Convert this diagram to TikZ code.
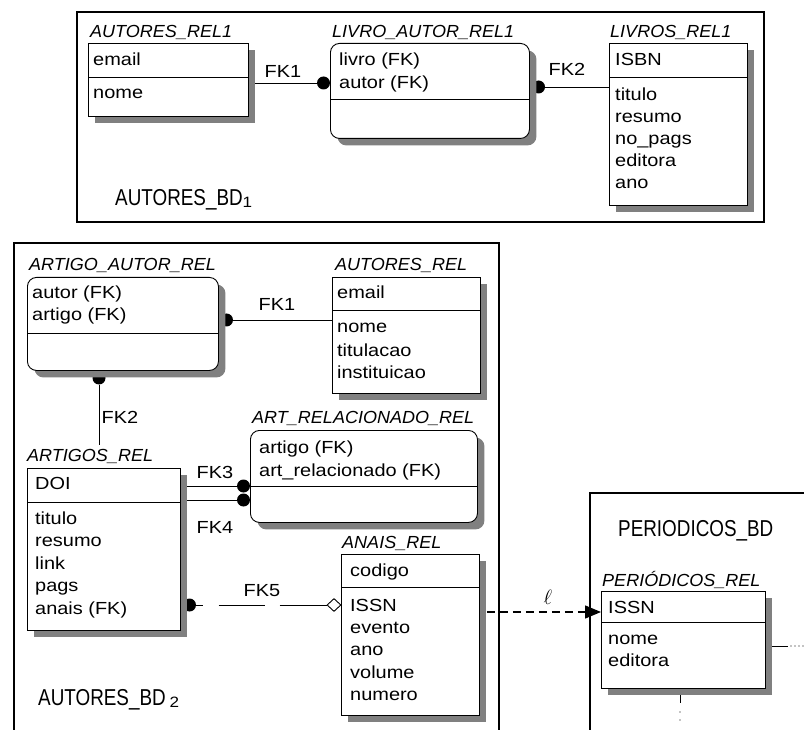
\documentclass[tikz,border=0pt]{standalone}
\usepackage{fontspec}
\setmainfont{Liberation Sans}[FakeStretch=1.14]
\newfontfamily\titlefont{Liberation Sans}[FakeStretch=1.03]
\newfontfamily\bdfont{Liberation Sans}[FakeStretch=0.82]
\usetikzlibrary{shadows,calc,arrows.meta,shapes.geometric}
\pgfdeclarelayer{background}
\pgfsetlayers{background,main}
\definecolor{shadowgray}{RGB}{128,128,128}
\tikzset{
 ent/.style={draw, line width=0.9pt, fill=white, inner sep=0pt, anchor=north west,
   drop shadow={shadow xshift=7pt, shadow yshift=-7pt, fill=shadowgray, opacity=1}},
 rent/.style={ent, rounded corners=9pt},
 txt/.style={anchor=base west, inner sep=0pt, font=\fontsize{17.5}{21}\selectfont},
 ttl/.style={anchor=base west, inner sep=0pt, font=\titlefont\itshape\fontsize{17.5}{21}\selectfont},
 fk/.style={anchor=base, inner sep=0pt, font=\fontsize{17.5}{21}\selectfont},
 bd/.style={anchor=base west, inner sep=0pt, font=\bdfont\fontsize{23}{27}\selectfont},
 dot/.style={circle, fill=black, inner sep=0pt, minimum size=13pt},
 frame/.style={line width=2.6pt},
 conn/.style={line width=0.9pt},
 divl/.style={line width=0.9pt},
}
\begin{document}
\begin{tikzpicture}[x=1pt,y=-1pt]
\useasboundingbox (0,0) rectangle (804,730);
\clip (0,0) rectangle (804,730);

% ---------- AUTORES_BD1 ----------
\node[ent, minimum width=160pt, minimum height=73pt] (ar1) at (88,43) {};
\node[ttl] (ar1t) at (90,38) {AUTORES\_REL1};
\draw[divl] ($(ar1.north west)+(0,34)$) -- ($(ar1.north east)+(0,34)$);
\node[txt] (ar1a) at (93,66) {email};
\node[txt] (ar1b) at (93,99) {nome};

\node[rent, minimum width=199pt, minimum height=95pt] (lar1) at (330,43) {};
\node[ttl] (lar1t) at (332,38) {LIVRO\_AUTOR\_REL1};
\draw[divl] ($(lar1.north west)+(0,56)$) -- ($(lar1.north east)+(0,56)$);
\node[txt] (lar1a) at (339,66) {livro (FK)};
\node[txt] (lar1b) at (339,89) {autor (FK)};

\node[ent, minimum width=138pt, minimum height=162pt] (lr1) at (609,43) {};
\node[ttl] (lr1t) at (610,38) {LIVROS\_REL1};
\draw[divl] ($(lr1.north west)+(0,34)$) -- ($(lr1.north east)+(0,34)$);
\node[txt] (lr1a) at (615,66) {ISBN};
\node[txt] (lr1b) at (615,101) {titulo};
\node[txt] (lr1c) at (615,123) {resumo};
\node[txt] (lr1d) at (615,145) {no\_pags};
\node[txt] (lr1e) at (615,167) {editora};
\node[txt] (lr1f) at (615,189) {ano};

\node[fk] (fk1a) at (283,78) {FK1};
\node[fk] (fk2a) at (567,76) {FK2};
\node[bd] (bd1) at (115,206) {AUTORES\_BD{\rmfamily\fontsize{15}{15}\selectfont\raisebox{-2pt}{1}}};

% ---------- AUTORES_BD2 ----------
\node[rent, minimum width=191pt, minimum height=93pt] (aar) at (27,277) {};
\node[ttl] (aart) at (29,271) {ARTIGO\_AUTOR\_REL};
\draw[divl] ($(aar.north west)+(0,56)$) -- ($(aar.north east)+(0,56)$);
\node[txt] (aara) at (32,299) {autor (FK)};
\node[txt] (aarb) at (32,321) {artigo (FK)};

\node[ent, minimum width=148pt, minimum height=116pt] (aur) at (332,277) {};
\node[ttl] (aurt) at (335,271) {AUTORES\_REL};
\draw[divl] ($(aur.north west)+(0,33)$) -- ($(aur.north east)+(0,33)$);
\node[txt] (aura) at (337,299) {email};
\node[txt] (aurb) at (337,333) {nome};
\node[txt] (aurc) at (337,356) {titulacao};
\node[txt] (aurd) at (337,378) {instituicao};

\node[rent, minimum width=227pt, minimum height=92pt] (arr) at (250,430) {};
\node[ttl] (arrt) at (252,423) {ART\_RELACIONADO\_REL};
\draw[divl] ($(arr.north west)+(0,56)$) -- ($(arr.north east)+(0,56)$);
\node[txt] (arra) at (259,453) {artigo (FK)};
\node[txt] (arrb) at (259,476) {art\_relacionado (FK)};

\node[ent, minimum width=153pt, minimum height=162pt] (artr) at (27,468) {};
\node[ttl] (artrt) at (27,461) {ARTIGOS\_REL};
\draw[divl] ($(artr.north west)+(0,34)$) -- ($(artr.north east)+(0,34)$);
\node[txt] (artra) at (35,489) {DOI};
\node[txt] (artrb) at (35,524) {titulo};
\node[txt] (artrc) at (35,546) {resumo};
\node[txt] (artrd) at (35,569) {link};
\node[txt] (artre) at (35,591) {pags};
\node[txt] (artrf) at (35,614) {anais (FK)};

\node[ent, minimum width=138pt, minimum height=161pt] (anr) at (341,554) {};
\node[ttl] (anrt) at (342,548) {ANAIS\_REL};
\draw[divl] ($(anr.north west)+(0,33)$) -- ($(anr.north east)+(0,33)$);
\node[txt] (anra) at (350,576) {codigo};
\node[txt] (anrb) at (350,611) {ISSN};
\node[txt] (anrc) at (350,633) {evento};
\node[txt] (anrd) at (350,655) {ano};
\node[txt] (anre) at (350,678) {volume};
\node[txt] (anrf) at (350,700) {numero};

\node[fk] (fk1b) at (277,311) {FK1};
\node[fk] (fk2b) at (120,423) {FK2};
\node[fk] (fk3) at (215,478) {FK3};
\node[fk] (fk4) at (215,533) {FK4};
\node[fk] (fk5) at (262,596) {FK5};
\node[bd] (bd2) at (38,705) {AUTORES\_BD\,{\rmfamily\fontsize{15}{15}\selectfont\raisebox{-2pt}{2}}};

\node[draw, diamond, fill=white, inner sep=0pt, minimum width=14pt, minimum height=13pt, line width=0.9pt] (dm) at (334,605) {};

% ---------- PERIODICOS_BD ----------
\node[ent, minimum width=164pt, minimum height=97pt] (per) at (601,591) {};
\node[ttl] (pert) at (602,586) {PERIÓDICOS\_REL};
\draw[divl] ($(per.north west)+(0,31)$) -- ($(per.north east)+(0,31)$);
\node[txt] (pera) at (608,613) {ISSN};
\node[txt] (perb) at (608,644) {nome};
\node[txt] (perc) at (608,666) {editora};
\node[bd] (bd3) at (618,536) {PERIODICOS\_BD};

% ---------- connectors ----------
\begin{pgfonlayer}{background}
\node[dot] (d1) at (323.5,83) {};
\draw[conn] (ar1.east |- d1) -- (d1);
\node[dot] (d2) at (538.5,87) {};
\draw[conn] (d2) -- (lr1.west |- d2);
\node[dot] (d3) at (226.5,320) {};
\draw[conn] (d3) -- (aur.west |- d3);
\node[dot] (d4) at (99,378) {};
\coordinate (c4) at (99,445);
\draw[conn] (d4) -- (c4);
\node[dot] (d5) at (243.5,486) {};
\node[dot] (d6) at (243.5,500) {};
\draw[conn] (artr.east |- d5) -- (d5);
\draw[conn] (artr.east |- d6) -- (d6);
\node[dot] (d7) at (189.5,605) {};
\draw[conn, dash pattern=on 13pt off 16pt on 46pt off 15pt on 80pt] (d7.center) -- (dm.west);
\coordinate (r1) at (788,646);
\draw[conn] (per.east |- r1) -- (r1);
\coordinate (r2) at (804,646);
\draw[line width=1.3pt, line cap=round, dash pattern=on 0pt off 4pt] (r1) ++(3,0) -- (r2);
\coordinate (b1) at (680,703);
\draw[conn] (per.south -| b1) -- (b1);
\coordinate (b2) at (680,722);
\draw[line width=1.4pt, line cap=round, dash pattern=on 0pt off 8pt] (680,712) -- (b2);
\end{pgfonlayer}

\node[font=\fontsize{22}{24}\selectfont, inner sep=0pt] (ell) at (548,597) {$\ell$};
\draw[line width=1.5pt, dash pattern=on 8pt off 5pt, -{Triangle[length=16pt, width=13pt]}]
  ($(anr.north east)+(7,58)$) -- ($(per.north west)+(0,21)$);

% ---------- frames ----------
\draw[frame] (77,12) rectangle (764,222);
\draw[frame] (14,740) -- (14,243) -- (499,243) -- (499,740);
\draw[frame] (590,740) -- (590,493) -- (810,493);
\end{tikzpicture}
\end{document}
